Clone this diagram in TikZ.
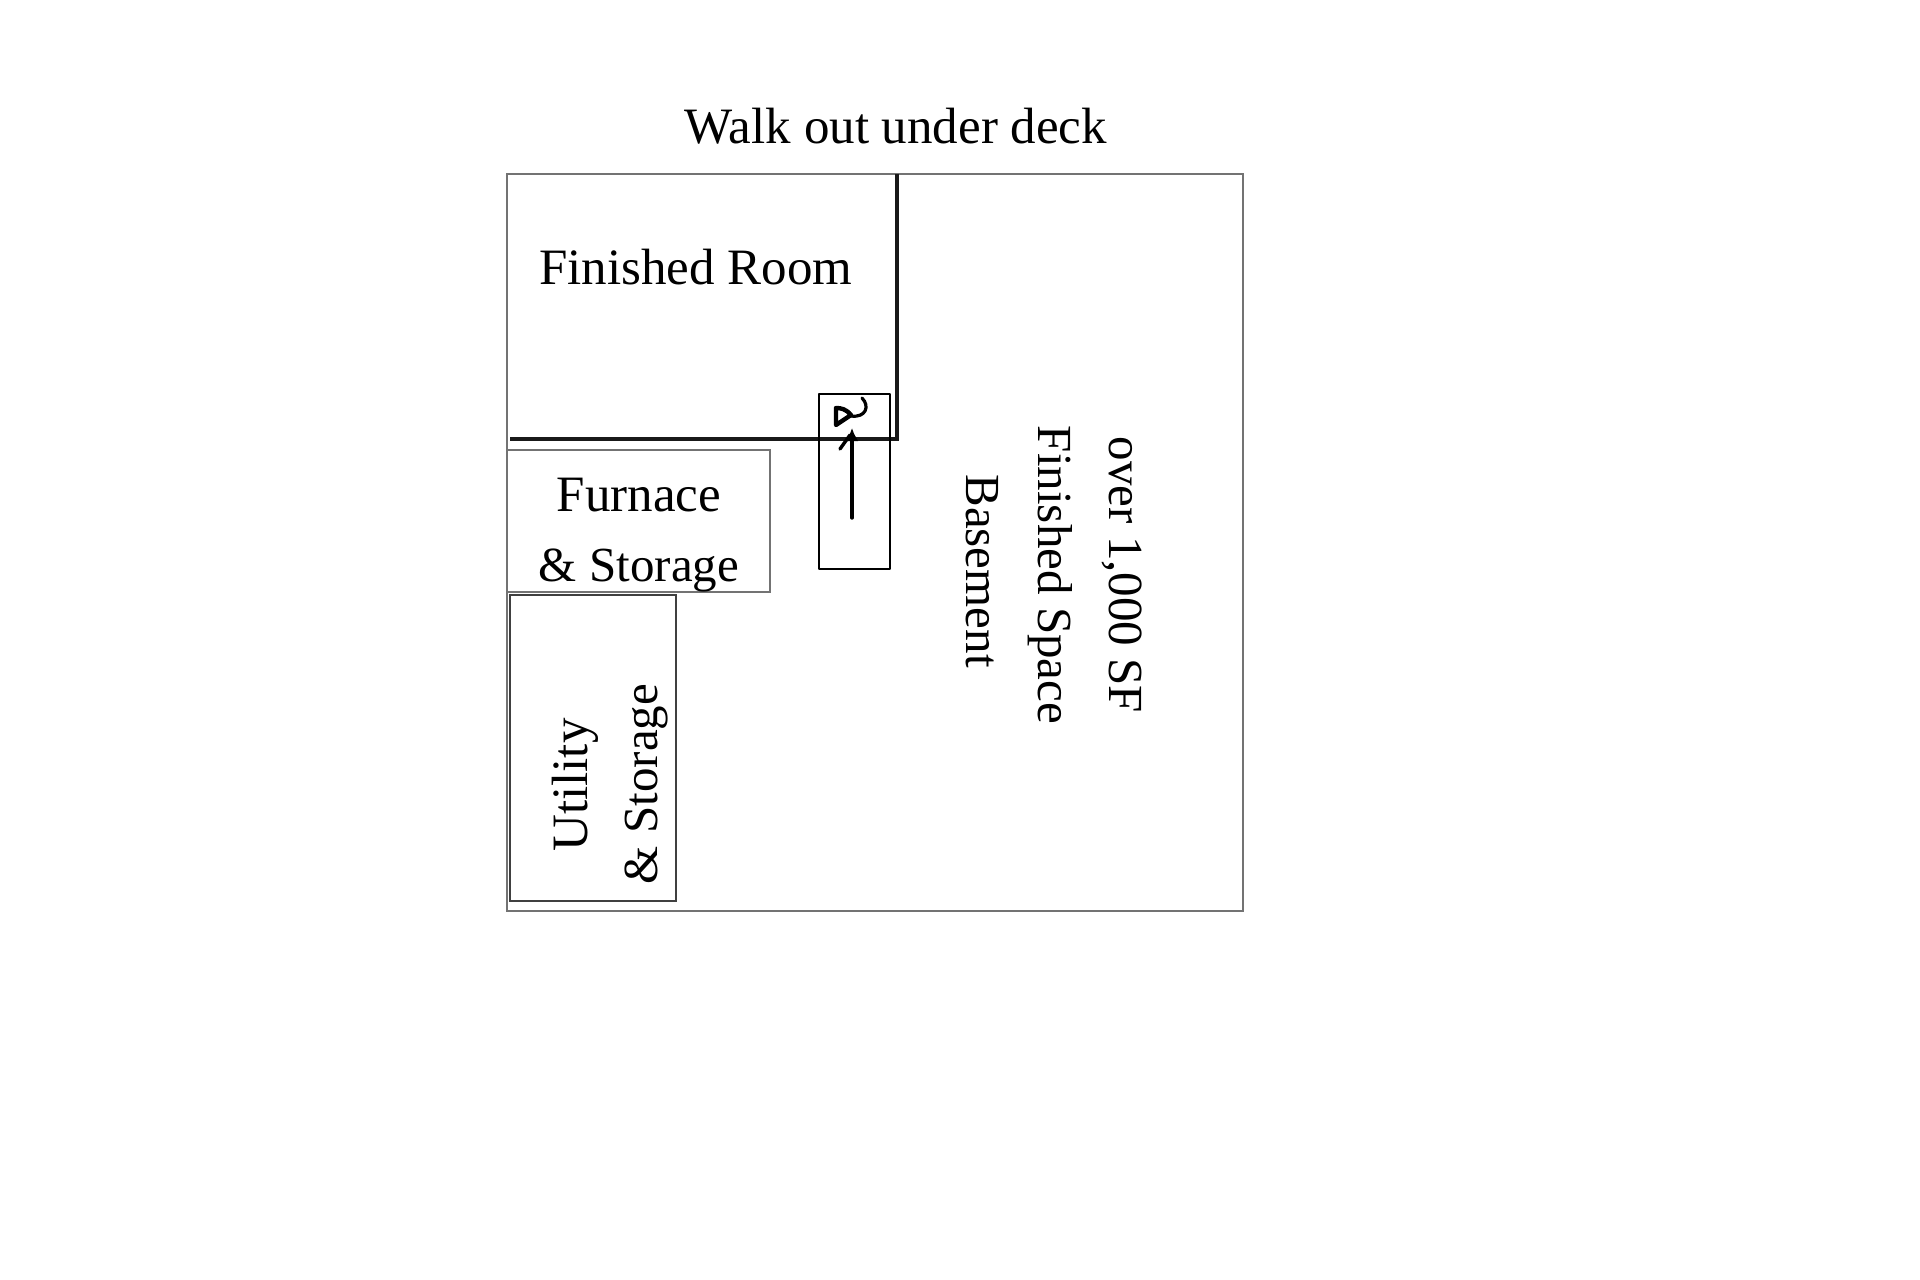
\documentclass[tikz,border=0pt]{standalone}
\usepackage{fontspec}
\usetikzlibrary{arrows.meta}
\setmainfont{Liberation Serif}
\tikzset{
	every node/.style={anchor=base,inner sep=0pt},
	label text/.style={font=\fontsize{49}{49}\selectfont},
	wide text/.style={font=\fontsize{51}{51}\selectfont},
	thin wall/.style={draw=black!55,line width=1.4pt},
	room wall/.style={draw=black!75,line width=2.2pt},
	thick wall/.style={draw=black!90,line width=3.2pt},
	hand line/.style={draw=black,line width=2.6pt,line cap=round,line join=round}
}

\begin{document}
\begin{tikzpicture}[x=1pt,y=-1pt]
	\useasboundingbox (0,0) rectangle (1920,1280);
	%outline
	\draw[thin wall] (507,174) rectangle (1243,911);
	%rooms
	\draw[thin wall] (507,450) rectangle (770,592);
	\draw[room wall] (510,595) rectangle (676,901);
	%walls of the finished room
	\coordinate (wall top) at (897,174);
	\coordinate (wall corner) at (897,439);
	\coordinate (wall end) at (510,439);
	\draw[thick wall] (wall top) -- (wall corner) -- (wall end);
	%stairs
	\draw[hand line] (819,394) rectangle (890,569);
	\coordinate (stair foot) at (852,518);
	\coordinate (stair head) at (852,428);
	\draw[hand line,line width=3.4pt,-{Latex[length=13pt,width=13pt]}] (stair foot) -- (stair head);
	\draw[hand line,line width=3.4pt] (840,449) -- (850,435);
	%handwritten mark
	\draw[hand line,line width=4.4pt] (836,408) -- (836,425) -- (851,415) .. controls (846,409) and (841,408) .. (836,408);
	\draw[hand line,line width=3.2pt] (851,416) .. controls (866,418) and (870,406) .. (862,398);
	%labels
	\node[wide text] (title) at (896,143) {Walk out under deck};
	\node[wide text] (finished room) at (696,284) {Finished Room};
	\node[wide text] (furnace) at (639,511) {Furnace};
	\node[label text] (furnace storage) at (639,581) {\&~Storage};
	\node[wide text,rotate=90] (utility) at (587,785) {Utility};
	\node[label text,rotate=90] (utility storage) at (657,784) {\&~Storage};
	\node[label text,rotate=-90] (over) at (1109,575) {over 1,000 SF};
	\node[label text,rotate=-90] (finished space) at (1038,575) {Finished Space};
	\node[label text,rotate=-90] (basement) at (966,571) {Basement};
\end{tikzpicture}
\end{document}
